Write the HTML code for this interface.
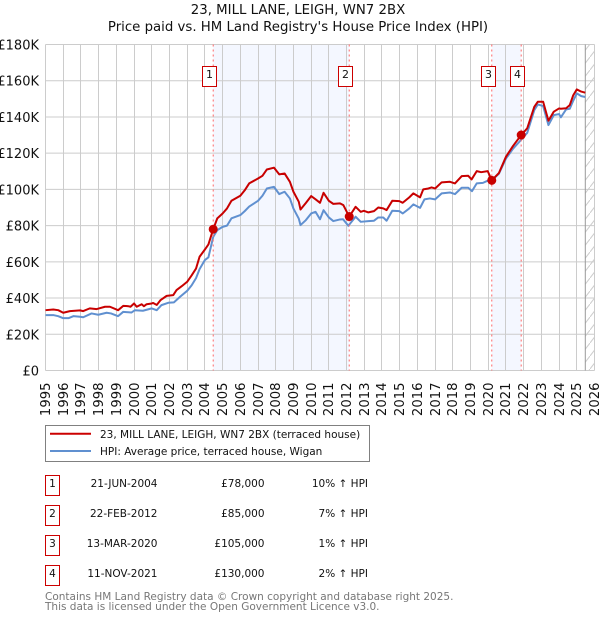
<!DOCTYPE html>
<html lang="en">
<head>
<meta charset="utf-8">
<title>23, MILL LANE, LEIGH, WN7 2BX</title>
<style>
html,body{margin:0;padding:0;background:#fff;}
svg{display:block;}
text{font-family:"DejaVu Sans","Liberation Sans",sans-serif;fill:#111;}
</style>
</head>
<body>
<svg id="chart" width="600" height="620" viewBox="0 0 600 620" xmlns="http://www.w3.org/2000/svg">
  <defs>
    <pattern id="hatch" patternUnits="userSpaceOnUse" width="10" height="13" patternTransform="translate(0,5)">
      <line x1="0" y1="13" x2="10" y2="0" stroke="#ccc" stroke-width="1"/>
    </pattern>
  </defs>
  <text x="298" y="14" font-size="13.3" text-anchor="middle">23, MILL LANE, LEIGH, WN7 2BX</text>
  <text x="298" y="31" font-size="13.3" text-anchor="middle">Price paid vs. HM Land Registry's House Price Index (HPI)</text>
  <g id="bands"></g>
  <g id="grid"></g>
  <g id="yticks"></g>
  <g id="xticks"></g>
  <g id="series"></g>
  <g id="sales"></g>

  <g>
    <rect x="45.5" y="425.5" width="324" height="36" fill="#fff" stroke="#808080" stroke-width="1"/>
    <line x1="50" y1="433.8" x2="91" y2="433.8" stroke="#c00" stroke-width="2"/>
    <line x1="50" y1="451" x2="91" y2="451" stroke="#6090d0" stroke-width="2"/>
    <text x="100" y="438" font-size="10.5">23, MILL LANE, LEIGH, WN7 2BX (terraced house)</text>
    <text x="100" y="455" font-size="10.5">HPI: Average price, terraced house, Wigan</text>
  </g>

  <g font-size="10.5">
    <rect x="45.5" y="475.5" width="14" height="20" fill="#fff" stroke="#c00"/>
    <text x="52.5" y="487" text-anchor="middle">1</text>
    <text x="157.5" y="487" text-anchor="end">21-JUN-2004</text>
    <text x="264.5" y="487" text-anchor="end">£78,000</text>
    <text x="368" y="487" text-anchor="end">10% ↑ HPI</text>

    <rect x="45.5" y="505.5" width="14" height="20" fill="#fff" stroke="#c00"/>
    <text x="52.5" y="517" text-anchor="middle">2</text>
    <text x="157.5" y="517" text-anchor="end">22-FEB-2012</text>
    <text x="264.5" y="517" text-anchor="end">£85,000</text>
    <text x="368" y="517" text-anchor="end">7% ↑ HPI</text>

    <rect x="45.5" y="535.5" width="14" height="20" fill="#fff" stroke="#c00"/>
    <text x="52.5" y="547" text-anchor="middle">3</text>
    <text x="157.5" y="547" text-anchor="end">13-MAR-2020</text>
    <text x="264.5" y="547" text-anchor="end">£105,000</text>
    <text x="368" y="547" text-anchor="end">1% ↑ HPI</text>

    <rect x="45.5" y="565.5" width="14" height="20" fill="#fff" stroke="#c00"/>
    <text x="52.5" y="577" text-anchor="middle">4</text>
    <text x="157.5" y="577" text-anchor="end">11-NOV-2021</text>
    <text x="264.5" y="577" text-anchor="end">£130,000</text>
    <text x="368" y="577" text-anchor="end">2% ↑ HPI</text>
  </g>

  <text x="45" y="600" font-size="10.5" style="fill:#777">Contains HM Land Registry data © Crown copyright and database right 2025.</text>
  <text x="45" y="610" font-size="10.5" style="fill:#777">This data is licensed under the Open Government Licence v3.0.</text>
</svg>

<script>
const yTickValues = [0, 20, 40, 60, 80, 100, 120, 140, 160, 180];
const xTickYears = [1995,1996,1997,1998,1999,2000,2001,2002,2003,2004,2005,2006,2007,2008,2009,2010,2011,2012,2013,2014,2015,2016,2017,2018,2019,2020,2021,2022,2023,2024,2025,2026];

const priceDates = [1995,1995.44,1995.72,1996,1996.38,1996.95,1997.13,1997.5,1997.89,1998.36,1998.64,1999.1,1999.39,1999.68,1999.8,2000,2000.15,2000.43,2000.56,2000.71,2001,2001.08,2001.28,2001.5,2001.84,2002.21,2002.4,2002.7,2003,2003.25,2003.5,2003.7,2004,2004.2,2004.47,2004.7,2005,2005.25,2005.5,2006,2006.25,2006.5,2007,2007.25,2007.5,2007.9,2008.2,2008.5,2008.8,2009,2009.3,2009.4,2009.7,2010,2010.25,2010.5,2010.7,2011,2011.25,2011.63,2011.82,2012.15,2012.51,2012.8,2012.98,2013.23,2013.55,2013.79,2014.07,2014.26,2014.58,2014.98,2015.17,2015.54,2015.77,2016.15,2016.33,2016.62,2016.8,2017,2017.37,2017.84,2018.12,2018.5,2018.87,2019.06,2019.35,2019.6,2019.97,2020.2,2020.6,2021,2021.4,2021.86,2022.2,2022.6,2022.8,2023.1,2023.4,2023.7,2024,2024.1,2024.4,2024.6,2024.8,2025,2025.25,2025.48];
const priceValues = [33.3,33.7,33.3,31.9,32.8,33.2,32.8,34.3,33.9,35.2,35.2,33.3,35.7,35.5,35.2,37.0,35.2,36.6,35.5,36.6,37.0,37.3,36.2,38.9,41.2,41.6,44.4,46.6,49.0,52.5,56.3,62.8,66.8,69.6,78.0,84.0,86.7,89.5,93.7,96.5,99.5,103.3,106.0,107.5,111.0,112.0,108.3,108.8,104.2,98.7,93.2,88.9,92.5,96.3,94.5,92.6,98.1,93.7,92.0,92.3,91.3,85.0,90.4,87.6,88.2,87.3,88.0,90.0,89.5,88.6,93.7,93.5,92.6,95.6,97.8,95.6,100.0,100.5,101.1,100.5,103.9,104.2,103.3,107.3,107.5,105.5,110.1,109.5,110.1,105.0,109.0,118.0,124.0,130.0,133.7,145.6,148.4,148.4,137.9,142.9,144.7,144.5,144.8,146.5,152.0,155.2,154.0,153.4];

const hpiDates = [1995,1995.44,1995.72,1996,1996.3,1996.57,1996.95,1997.13,1997.6,1997.98,1998.45,1998.7,1999.1,1999.39,1999.85,2000.05,2000.5,2001,2001.28,2001.55,2001.93,2002.25,2002.6,2003,2003.25,2003.5,2003.7,2004,2004.2,2004.47,2004.7,2005,2005.25,2005.5,2006,2006.25,2006.5,2007,2007.25,2007.5,2007.9,2008.2,2008.5,2008.8,2009,2009.3,2009.4,2009.7,2010,2010.25,2010.5,2010.7,2011,2011.25,2011.63,2011.8,2012.1,2012.51,2012.8,2013.23,2013.55,2013.79,2014.07,2014.26,2014.58,2014.98,2015.17,2015.54,2015.77,2016.15,2016.4,2016.7,2017,2017.37,2017.84,2018.12,2018.5,2018.87,2019.08,2019.35,2019.7,2019.97,2020.2,2020.6,2021,2021.4,2021.86,2022.2,2022.6,2022.8,2023.1,2023.4,2023.7,2024,2024.1,2024.4,2024.6,2024.8,2025,2025.25,2025.48];
const hpiValues = [30.6,30.6,30.0,28.9,28.9,30.0,29.7,29.4,31.5,30.8,31.9,31.5,30.0,32.4,32.0,33.3,33.0,34.3,33.3,36.1,37.4,37.6,40.7,44.0,47.0,51.0,56.0,61.0,62.5,73.8,77.5,79.3,80.0,84.0,85.8,88.0,90.5,93.7,96.5,100.5,101.4,97.4,98.7,95.0,89.4,83.9,80.3,83.0,86.7,87.6,83.5,88.5,84.5,82.5,83.4,83.5,79.9,84.9,82.1,82.5,82.7,84.5,84.5,82.7,88.2,88.0,86.7,89.5,91.7,89.8,94.5,95.0,94.5,97.8,98.3,97.4,100.9,100.9,99.0,103.3,103.6,104.8,105.0,108.6,117.0,122.5,127.4,131.2,143.8,146.9,146.0,135.5,141.0,141.6,139.8,144.2,144.5,149.0,153.0,151.5,151.0];

const saleLabels = ["1", "2", "3", "4"];
const saleDates = [2004.47, 2012.15, 2020.2, 2021.86];
const salePrices = [78, 85, 105, 130];

const SVG_NS = "http://www.w3.org/2000/svg";
const plotLeft = 45.5, plotRight = 594.5, plotTop = 44.5, plotBottom = 370.5;
const xStart = 1995, xEnd = 2026, yMax = 180;
const dataEnd = 2025.48;

function xScale(year) {
  return plotLeft + (year - xStart) * (plotRight - plotLeft) / (xEnd - xStart);
}
function yScale(value) {
  return plotBottom - value * (plotBottom - plotTop) / yMax;
}
function make(tag, parentId, attrs) {
  const el = document.createElementNS(SVG_NS, tag);
  for (const key in attrs) el.setAttribute(key, attrs[key]);
  document.getElementById(parentId).appendChild(el);
  return el;
}

// Shaded bands between sale pairs
for (let i = 0; i < saleDates.length; i += 2) {
  const band = make("rect", "bands", {
    x: xScale(saleDates[i]), y: plotTop,
    width: xScale(saleDates[i + 1]) - xScale(saleDates[i]),
    height: plotBottom - plotTop, fill: "#f4f7ff"
  });
  
  
}
const future = make("rect", "bands", {
  x: xScale(dataEnd), y: plotTop,
  width: plotRight - xScale(dataEnd),
  height: plotBottom - plotTop, fill: "url(#hatch)"
});



// Grid and y axis
yTickValues.forEach(function (v) {
  const line = make("line", "grid", {
    x1: plotLeft, x2: plotRight, y1: yScale(v), y2: yScale(v),
    stroke: "#ccc", "stroke-width": 1
  });
  
  
  const label = make("text", "yticks", {
    x: 39, y: yScale(v) + 5, "text-anchor": "end", "font-size": 13
  });
  
  
  label.textContent = v === 0 ? "£0" : "£" + v + "K";
});

// Grid and x axis
xTickYears.forEach(function (yr) {
  const x = Math.round(xScale(yr) - 0.5) + 0.5;
  const line = make("line", "grid", {
    x1: x, x2: x, y1: plotTop, y2: plotBottom,
    stroke: "#ccc", "stroke-width": 1
  });
  
  
  const label = make("text", "xticks", {
    transform: "translate(" + (x + 4.5) + ",382.5) rotate(-90)",
    "text-anchor": "end", "font-size": 13.2
  });
  
  
  label.textContent = yr;
});

const endLine = make("line", "grid", {
  x1: xScale(dataEnd), x2: xScale(dataEnd), y1: plotTop, y2: plotBottom,
  stroke: "#999", "stroke-width": 1
});



// Series
function pathFrom(dates, values) {
  return dates.map(function (d, i) {
    return (i ? "L" : "M") + xScale(d).toFixed(2) + " " + yScale(values[i]).toFixed(2);
  }).join(" ");
}
const hpiLine = make("path", "series", {
  d: pathFrom(hpiDates, hpiValues), fill: "none", stroke: "#6090d0",
  "stroke-width": 2, "stroke-linejoin": "round"
});


const priceLine = make("path", "series", {
  d: pathFrom(priceDates, priceValues), fill: "none", stroke: "#c80000",
  "stroke-width": 2, "stroke-linejoin": "round"
});



// Sale markers
saleDates.forEach(function (d, i) {
  const x = xScale(d);
  const rule = make("line", "sales", {
    x1: x, x2: x, y1: plotTop, y2: plotBottom,
    stroke: "#ff6666", "stroke-width": 1, "stroke-dasharray": "2 3"
  });
  
  
  const dot = make("circle", "sales", {
    cx: x, cy: yScale(salePrices[i]), r: 4.5, fill: "#c80000"
  });
  
  
  const box = make("rect", "sales", {
    x: Math.floor(x - 10.5) + 0.5, y: 66.5, width: 14, height: 20,
    fill: "#fff", stroke: "#c00", "stroke-width": 1
  });
  
  
  const label = make("text", "sales", {
    x: Math.floor(x - 10.5) + 7.5, y: 78, "text-anchor": "middle", "font-size": 11
  });
  
  
  label.textContent = saleLabels[i];
});
</script>
</body>
</html>
